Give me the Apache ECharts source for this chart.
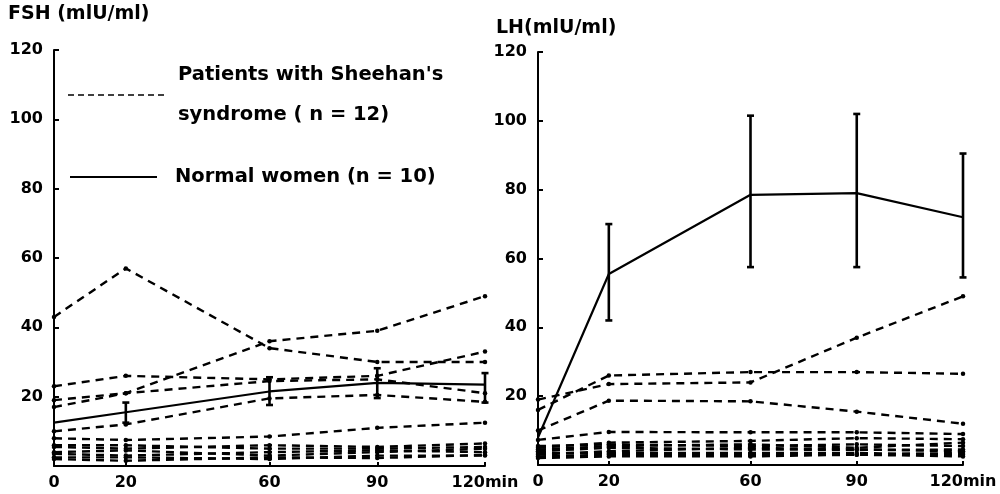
<!DOCTYPE html>
<html><head><meta charset="utf-8">
<script src="https://cdn.jsdelivr.net/npm/echarts@6/dist/echarts.min.js"></script>
<style>html,body{margin:0;padding:0;background:#fff}#c{width:1000px;height:494px}</style>
</head><body><div id="c"></div>
<script>
// ---- data ----
const times = [0, 20, 60, 90, 120];
const xTickLabels = ['0', '20', '60', '90', '120min'];
const yTickValues = [20, 40, 60, 80, 100, 120];

const fshTitle = 'FSH (mlU/ml)';
const lhTitle = 'LH(mlU/ml)';
const legendPatients1 = "Patients with Sheehan's";
const legendPatients2 = 'syndrome ( n = 12)';
const legendNormal = 'Normal women (n = 10)';

// FSH - normal women (mean, SE)
const fshNormal = [12.5, 15.5, 21.5, 24, 23.5];
const fshErrLow = [null, 12.5, 17.6, 19.6, 18.3];
const fshErrHigh = [null, 18.3, 25.6, 28.2, 26.8];

// FSH - 12 patients
const fshP1 = [43, 57, 34, 30, 30];
const fshP2 = [19, 21, 36, 39, 49];
const fshP3 = [23, 26, 25, 26, 33];
const fshP4 = [17, 21, 24.5, 25, 21];
const fshP5 = [10, 12, 19.5, 20.5, 18.5];
const fshP6 = [8, 7.5, 8.5, 11, 12.5];
const fshP7 = [5.5, 5, 6, 5.5, 6.5];
const fshP8 = [4, 4.5, 3, 4, 5];
const fshP9 = [2.5, 2.5, 2, 3, 3];
const fshP10 = [3.5, 3, 4, 4.5, 4];
const fshP11 = [6, 6, 5, 5, 5.5];
const fshP12 = [2, 1.5, 2.5, 2.3, 3.2];

// LH - normal women (mean, SE)
const lhNormal = [8, 55.5, 78.5, 79, 72];
const lhErrLow = [null, 42, 57.5, 57.5, 54.5];
const lhErrHigh = [null, 70, 101.5, 102, 90.5];

// LH - 12 patients
const lhP1 = [16, 26, 27, 27, 26.5];
const lhP2 = [19, 23.5, 24, 37, 49];
const lhP3 = [10, 18.7, 18.5, 15.5, 12];
const lhP4 = [7.3, 9.6, 9.5, 9.5, 9];
const lhP5 = [5, 6.5, 7, 7.8, 7.5];
const lhP6 = [4.5, 5.5, 6, 5, 6.5];
const lhP7 = [4, 5, 4.5, 4.4, 4.5];
const lhP8 = [3, 4, 5, 4.5, 4];
const lhP9 = [3.5, 3.5, 3.5, 3.5, 3];
const lhP10 = [2.5, 3, 3, 3, 3.5];
const lhP11 = [5.5, 6, 5.5, 6, 5.5];
const lhP12 = [2, 2.5, 2.5, 3, 2.5];

const fshPatients = [fshP1, fshP2, fshP3, fshP4, fshP5, fshP6, fshP7, fshP8, fshP9, fshP10, fshP11, fshP12];
const lhPatients = [lhP1, lhP2, lhP3, lhP4, lhP5, lhP6, lhP7, lhP8, lhP9, lhP10, lhP11, lhP12];

// ---- chart ----
const FONT = 'DejaVu Sans';
const pair = arr => times.map((t, i) => [t, arr[i]]);
const errData = (lo, hi) => times.map((t, i) => [t, lo[i], hi[i]]).filter(d => d[1] != null);

function xAxis(gi) {
  return {
    type: 'value', gridIndex: gi, min: 0, max: 120,
    axisLine: { show: true, lineStyle: { color: '#000', width: 2 } },
    axisTick: { show: true, inside: true, length: 4, customValues: times, lineStyle: { color: '#000', width: 2 } },
    axisLabel: {
      customValues: times, color: '#000', fontFamily: FONT, fontWeight: 'bold', fontSize: 16, margin: 9,
      formatter: v => xTickLabels[times.indexOf(v)]
    },
    splitLine: { show: false }
  };
}
function yAxis(gi) {
  return {
    type: 'value', gridIndex: gi, min: 0, max: 120, interval: 20,
    axisLine: { show: true, lineStyle: { color: '#000', width: 2 } },
    axisTick: { show: true, inside: true, length: 5, lineStyle: { color: '#000', width: 2 } },
    axisLabel: {
      color: '#000', fontFamily: FONT, fontWeight: 'bold', fontSize: 16, margin: 11,
      formatter: v => (yTickValues.indexOf(v) >= 0 ? String(v) : '')
    },
    splitLine: { show: false }
  };
}
function patientSeries(arr, gi) {
  return {
    type: 'line', xAxisIndex: gi, yAxisIndex: gi, data: pair(arr),
    symbol: 'circle', symbolSize: 4.5, silent: true,
    itemStyle: { color: '#000' },
    lineStyle: { color: '#000', width: 2.4, type: [8, 6] },
    z: 3
  };
}
function normalSeries(arr, gi) {
  return {
    type: 'line', xAxisIndex: gi, yAxisIndex: gi, data: pair(arr),
    symbol: 'none', silent: true,
    lineStyle: { color: '#000', width: 2.2, type: 'solid' }, z: 4
  };
}
function errSeries(lo, hi, gi) {
  return {
    type: 'custom', xAxisIndex: gi, yAxisIndex: gi, data: errData(lo, hi), silent: true, z: 5,
    renderItem: (params, api) => {
      const x = api.value(0);
      const p1 = api.coord([x, api.value(1)]);
      const p2 = api.coord([x, api.value(2)]);
      const w = 3.5;
      const st = { stroke: '#000', lineWidth: 2.6 };
      return {
        type: 'group', children: [
          { type: 'line', shape: { x1: p1[0], y1: p1[1], x2: p2[0], y2: p2[1] }, style: st },
          { type: 'line', shape: { x1: p1[0] - w, y1: p1[1], x2: p1[0] + w, y2: p1[1] }, style: st },
          { type: 'line', shape: { x1: p2[0] - w, y1: p2[1], x2: p2[0] + w, y2: p2[1] }, style: st }
        ]
      };
    },
    encode: { x: 0, y: [1, 2] }
  };
}

const series = [];
fshPatients.forEach(a => series.push(patientSeries(a, 0)));
series.push(normalSeries(fshNormal, 0));
series.push(errSeries(fshErrLow, fshErrHigh, 0));
lhPatients.forEach(a => series.push(patientSeries(a, 1)));
series.push(normalSeries(lhNormal, 1));
series.push(errSeries(lhErrLow, lhErrHigh, 1));

const textStyle = (size) => ({ fill: '#000', font: 'bold ' + size + 'px "' + FONT + '"' });

const option = {
  animation: false,
  backgroundColor: '#fff',
  grid: [
    { left: 54, top: 50, width: 431, height: 416 },
    { left: 538, top: 52, width: 425, height: 413 }
  ],
  xAxis: [xAxis(0), xAxis(1)],
  yAxis: [yAxis(0), yAxis(1)],
  series: series,
  graphic: [
    { type: 'text', left: 8, top: 5, style: Object.assign({ text: fshTitle }, textStyle(19)) },
    { type: 'text', left: 496, top: 19, style: Object.assign({ text: lhTitle }, textStyle(19)) },
    { type: 'line', shape: { x1: 68, y1: 95, x2: 165, y2: 95 }, style: { stroke: '#000', lineWidth: 1.6, lineDash: [6, 4] } },
    { type: 'text', left: 178, top: 65, style: Object.assign({ text: legendPatients1 }, textStyle(19.5)) },
    { type: 'text', left: 178, top: 105, style: Object.assign({ text: legendPatients2 }, textStyle(19.5)) },
    { type: 'line', shape: { x1: 70, y1: 177, x2: 157, y2: 177 }, style: { stroke: '#000', lineWidth: 2 } },
    { type: 'text', left: 175, top: 167, style: Object.assign({ text: legendNormal }, textStyle(19.5)) }
  ]
};
const chart = echarts.init(document.getElementById('c'), null, { renderer: 'canvas' });
chart.setOption(option);
</script>
</body></html>
